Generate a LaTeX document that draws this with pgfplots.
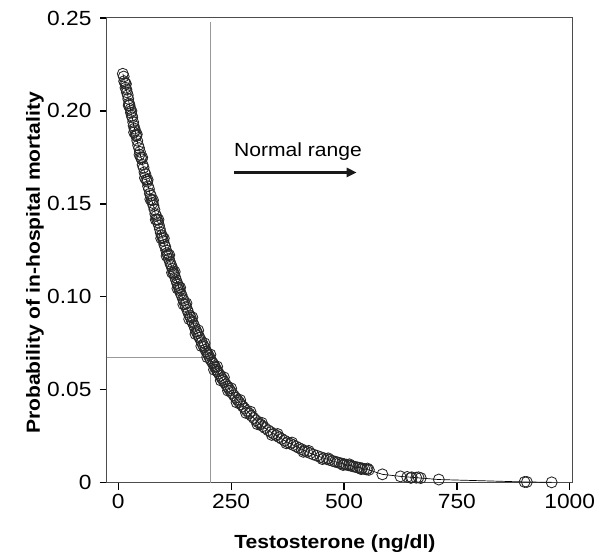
\documentclass[border=0pt]{standalone}
\usepackage{fontspec}
\setmainfont{Liberation Sans}[FakeStretch=1.11]
\usepackage{pgfplots}
\pgfplotsset{compat=1.18}
\usepackage{pgfplotstable}
\usetikzlibrary{arrows.meta}

\pgfplotstableread{
x y
10 0.2200
12 0.2185
13 0.2160
15 0.2150
16 0.2125
18 0.2115
19 0.2100
21 0.2085
22 0.2065
24 0.2040
25 0.2030
27 0.2010
28 0.1990
30 0.1975
31 0.1965
33 0.1940
34 0.1920
36 0.1905
37 0.1895
39 0.1870
40 0.1865
42 0.1840
44 0.1815
46 0.1800
48 0.1780
50 0.1750
52 0.1740
54 0.1710
56 0.1695
58 0.1670
60 0.1660
62 0.1630
64 0.1620
66 0.1595
68 0.1580
70 0.1555
72 0.1545
74 0.1520
76 0.1505
78 0.1490
80 0.1470
82 0.1445
84 0.1435
86 0.1415
88 0.1400
90 0.1385
92 0.1365
94 0.1345
96 0.1330
98 0.1320
100 0.1300
102 0.1280
104 0.1270
106 0.1250
108 0.1235
110 0.1225
112 0.1205
114 0.1190
116 0.1175
118 0.1165
120 0.1150
122 0.1130
124 0.1120
126 0.1105
128 0.1090
130 0.1075
132 0.1065
134 0.1050
136 0.1035
138 0.1020
140 0.1010
143 0.0990
145 0.0980
148 0.0960
150 0.0945
153 0.0930
155 0.0915
158 0.0900
160 0.0890
163 0.0870
165 0.0860
168 0.0845
170 0.0830
173 0.0815
175 0.0805
178 0.0790
180 0.0780
183 0.0765
185 0.0755
188 0.0740
190 0.0730
193 0.0715
195 0.0705
198 0.0695
200 0.0685
203 0.0670
205 0.0660
208 0.0648
210 0.0640
213 0.0627
215 0.0620
218 0.0607
220 0.0598
223 0.0587
226 0.0575
229 0.0563
232 0.0553
235 0.0542
238 0.0530
242 0.0517
245 0.0506
248 0.0495
252 0.0483
256 0.0470
260 0.0457
264 0.0445
268 0.0433
272 0.0421
276 0.0410
280 0.0399
285 0.0386
290 0.0373
295 0.0360
300 0.0348
305 0.0336
310 0.0325
315 0.0314
320 0.0304
325 0.0294
332 0.0282
338 0.0272
344 0.0263
350 0.0254
356 0.0245
362 0.0236
368 0.0227
375 0.0218
381 0.0210
388 0.0202
394 0.0195
400 0.0187
406 0.0180
412 0.0173
418 0.0166
425 0.0159
432 0.0152
440 0.0145
448 0.0138
455 0.0132
462 0.0127
468 0.0122
475 0.0117
480 0.0113
485 0.0110
490 0.0106
495 0.0103
500 0.0100
505 0.0097
510 0.0094
515 0.0091
520 0.0088
525 0.0085
530 0.0082
535 0.0080
540 0.0077
545 0.0074
550 0.0071
555 0.0069
585 0.0045
625 0.0034
640 0.0031
650 0.0029
660 0.0027
670 0.0025
710 0.0017
900 0.0004
905 0.0004
960 0.0002
}\datatable

\pgfplotstableread{
x y
17 0.2145
23 0.2030
29 0.2000
35 0.1885
41 0.1875
47 0.1765
53 0.1750
59 0.1640
65 0.1630
71 0.1525
77 0.1520
83 0.1415
89 0.1415
95 0.1315
101 0.1315
107 0.1220
113 0.1225
119 0.1130
125 0.1135
131 0.1045
137 0.1050
144 0.0960
151 0.0965
157 0.0880
164 0.0890
171 0.0800
177 0.0820
184 0.0735
191 0.0750
197 0.0675
204 0.0690
212 0.0608
219 0.0625
227 0.0550
234 0.0567
243 0.0495
250 0.0508
262 0.0432
270 0.0445
283 0.0375
293 0.0382
308 0.0315
318 0.0322
340 0.0257
353 0.0262
372 0.0212
385 0.0216
410 0.0166
422 0.0171
452 0.0127
465 0.0131
498 0.0095
512 0.0099
538 0.0073
552 0.0076
648 0.0026
665 0.0029
}\extratable

\begin{document}
\begin{tikzpicture}[font=\fontsize{19}{22}\selectfont]
\useasboundingbox (-107pt,-73.3pt) rectangle (492pt,482.7pt);
\begin{axis}[
  at={(0,0)}, anchor=south west,
  scale only axis, width=465pt, height=464.7pt,
  xmin=-25, xmax=1005, ymin=0, ymax=0.25,
  clip=false,
  axis line style={draw=black!70, line width=1pt},
  xtick={0,250,500,750,1000},
  xticklabels={0,250,500,750,1000},
  ytick={0,0.05,0.10,0.15,0.20,0.25},
  yticklabels={0,0.05,0.10,0.15,0.20,0.25},
  tick align=outside, xtick pos=bottom, ytick pos=left,
  major tick length=7pt,
  tick style={draw=black, line width=1.3pt},
  tick label style={font=\fontsize{20.5}{23}\selectfont},
  yticklabel style={xshift=-5pt},
  xticklabel style={yshift=-1pt},
  /pgf/number format/assume math mode=true,
  xlabel={\bfseries Testosterone (ng/dl)},
  ylabel={\bfseries Probability of in-hospital mortality},
  xlabel style={at={(axis description cs:0.49,-0.131)}, anchor=center},
  ylabel style={at={(axis description cs:-0.155,0.473)}, anchor=center},
]
\draw[black!40, line width=1.1pt] (axis cs:205,0.0672) -- (axis cs:-25,0.0672);
\draw[black!40, line width=1.1pt] (axis cs:205,0) -- (axis cs:205,0.248);
\addplot[black, line width=0.7pt, no marks] table[x=x,y=y] {\datatable};
\addplot[only marks, mark=o, mark size=5.5pt, mark options={draw=black!85, line width=0.85pt}] table[x=x,y=y] {\datatable};
\addplot[only marks, mark=o, mark size=5.5pt, mark options={draw=black!85, line width=0.85pt}] table[x=x,y=y] {\extratable};
\node[anchor=base west, inner sep=0pt] at (axis cs:256,0.1753) {Normal range};
\draw[black!90, line width=2.6pt, -{Triangle[length=10pt,width=9pt]}] (axis cs:256,0.1669) -- (axis cs:528,0.1669);
\end{axis}
\end{tikzpicture}
\end{document}
